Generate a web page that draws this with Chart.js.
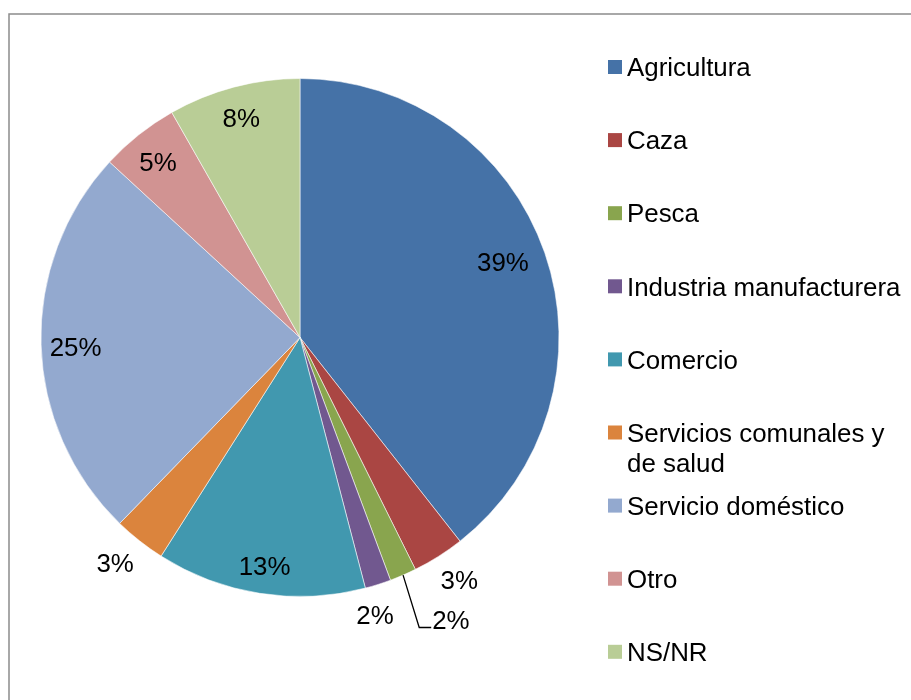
<!DOCTYPE html>
<html>
<head>
<meta charset="utf-8">
<script src="https://cdn.jsdelivr.net/npm/chart.js@4.4.0/dist/chart.umd.min.js"></script>
<style>
  html, body { margin: 0; padding: 0; background: #ffffff; }
  #c { display: block; }
</style>
</head>
<body>
<canvas id="c" width="911" height="700"></canvas>
<script>
// ---- data ----
const categories = ['Agricultura', 'Caza', 'Pesca', 'Industria manufacturera', 'Comercio',
  'Servicios comunales y de salud', 'Servicio doméstico', 'Otro', 'NS/NR'];
const shares = [39.4, 3.25, 1.67, 1.62, 13.07, 3.25, 24.59, 4.91, 8.24];

// ---- style ----
const sliceColors = ['#4572A7', '#AA4643', '#89A54E', '#71588F', '#4198AF',
  '#DB843D', '#93A9CF', '#D19392', '#B9CD96'];
// label placement: radius factor along the slice mid-angle (or 'leader'), plus small angle nudge in degrees
const labelRadius = [0.836, 1.12, 'leader', 1.109, 0.892, 1.125, 0.867, 0.873, 0.88];
const labelNudge = [-1.3, -1.0, -4.7, 2.4, -0.1, 1.1, -0.7, -0.4, -0.1];
const FONT_SIZE = 25.9;
const FONT = FONT_SIZE + 'px "Liberation Sans", Arial, sans-serif';

const total = shares.reduce((a, b) => a + b, 0);
const DEG = Math.PI / 180;

const framePlugin = {
  id: 'frame',
  beforeDraw(chart) {
    const ctx = chart.ctx;
    ctx.save();
    ctx.fillStyle = '#ffffff';
    ctx.fillRect(0, 0, chart.width, chart.height);
    ctx.strokeStyle = '#8c8c8c';
    ctx.lineWidth = 1.5;
    ctx.strokeRect(9, 14, 1200, 1200);
    ctx.restore();
  }
};

const labelPlugin = {
  id: 'sliceLabels',
  afterDatasetsDraw(chart) {
    const ctx = chart.ctx;
    const meta = chart.getDatasetMeta(0);
    ctx.save();
    ctx.font = FONT;
    ctx.fillStyle = '#000000';
    ctx.textBaseline = 'alphabetic';
    const capHalf = FONT_SIZE * 0.358;
    meta.data.forEach((arc, i) => {
      const p = arc.getProps(['x', 'y', 'startAngle', 'endAngle', 'outerRadius'], true);
      const mid = (p.startAngle + p.endAngle) / 2;
      const a = mid + labelNudge[i] * DEG;
      const text = Math.round(shares[i] / total * 100) + '%';
      const w = ctx.measureText(text).width;
      const f = labelRadius[i];
      if (f === 'leader') {
        const cx = p.x + Math.cos(a) * p.outerRadius * 1.235;
        const cy = p.y + Math.sin(a) * p.outerRadius * 1.235;
        const left = cx - w / 2;
        ctx.textAlign = 'left';
        ctx.fillText(text, left, cy + capHalf);
        const ex = p.x + Math.cos(mid) * p.outerRadius;
        const ey = p.y + Math.sin(mid) * p.outerRadius;
        ctx.beginPath();
        ctx.strokeStyle = '#000000';
        ctx.lineWidth = 1.3;
        ctx.moveTo(ex, ey);
        ctx.lineTo(left - 13, cy + 8);
        ctx.lineTo(left - 1, cy + 8);
        ctx.stroke();
      } else {
        const cx = p.x + Math.cos(a) * p.outerRadius * f;
        const cy = p.y + Math.sin(a) * p.outerRadius * f;
        ctx.textAlign = 'center';
        ctx.fillText(text, cx, cy + capHalf);
      }
    });
    ctx.restore();
  }
};

const legendPlugin = {
  id: 'sideLegend',
  afterDraw(chart) {
    const ctx = chart.ctx;
    ctx.save();
    ctx.font = FONT;
    ctx.textAlign = 'left';
    ctx.textBaseline = 'alphabetic';
    const capHalf = FONT_SIZE * 0.358;
    const boxX = 608, box = 14, textX = 627, maxW = 280;
    const startY = 67, step = 73.1, lineH = 30;
    categories.forEach((label, i) => {
      const cy = startY + i * step;
      ctx.fillStyle = sliceColors[i];
      ctx.fillRect(boxX, cy - box / 2, box, box);
      const words = label.split(' ');
      const lines = [];
      let cur = '';
      words.forEach(wd => {
        const test = cur ? cur + ' ' + wd : wd;
        if (ctx.measureText(test).width > maxW && cur) {
          lines.push(cur);
          cur = wd;
        } else {
          cur = test;
        }
      });
      if (cur) lines.push(cur);
      ctx.fillStyle = '#000000';
      lines.forEach((ln, k) => {
        ctx.fillText(ln, textX, cy + k * lineH + capHalf);
      });
    });
    ctx.restore();
  }
};

new Chart(document.getElementById('c'), {
  type: 'pie',
  data: {
    labels: categories,
    datasets: [{
      data: shares,
      backgroundColor: sliceColors,
      borderColor: 'rgba(255,255,255,0.55)',
      borderWidth: 1,
      hoverBorderWidth: 1,
      hoverOffset: 0
    }]
  },
  options: {
    responsive: false,
    animation: false,
    layout: { padding: { left: 40.5, right: 351.5, top: 78, bottom: 103 } },
    plugins: {
      legend: { display: false },
      tooltip: { enabled: false },
      title: { display: false }
    },
    events: []
  },
  plugins: [framePlugin, labelPlugin, legendPlugin]
});
</script>
</body>
</html>
